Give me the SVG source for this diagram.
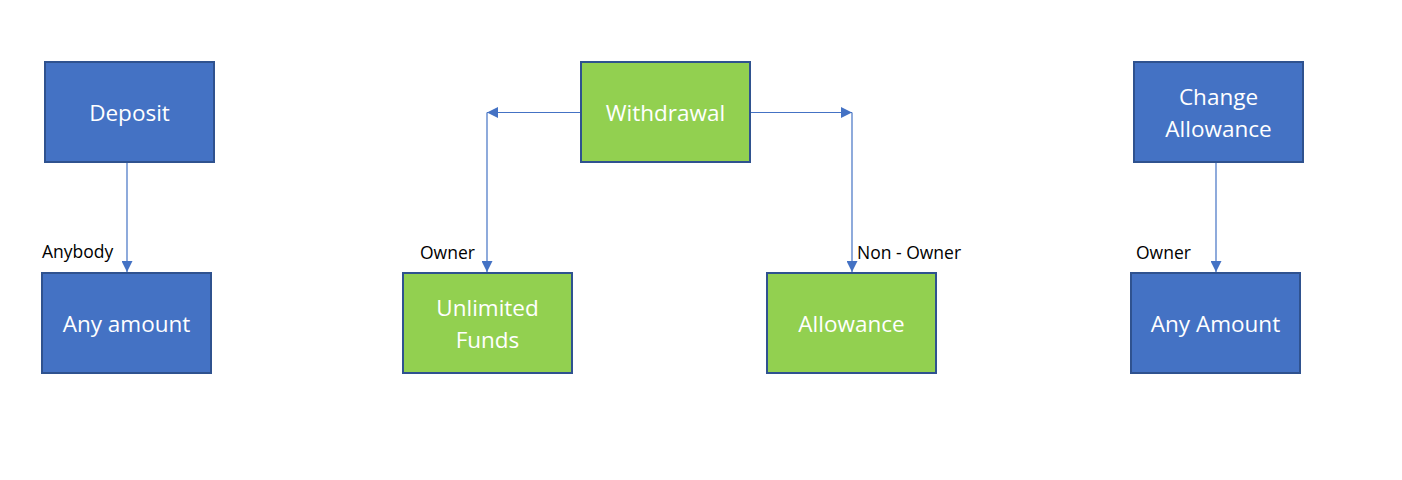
<svg xmlns="http://www.w3.org/2000/svg" width="1402" height="480" viewBox="0 0 1402 480">
<defs>
<marker id="arr" markerWidth="11" markerHeight="11" refX="11" refY="5.5" orient="auto" markerUnits="userSpaceOnUse">
<path d="M0,0 L11,5.5 L0,11 Z" fill="#4472C4"/>
</marker>
<style>
.blue{fill:#4472C4;stroke:#2F528F;stroke-width:2}
.green{fill:#92D050;stroke:#2F528F;stroke-width:2}
.t{font-family:"Open Sans","Noto Sans","DejaVu Sans",sans-serif;font-size:22.5px;fill:#fff;text-anchor:middle}
.lbl{font-family:"Open Sans","Noto Sans","DejaVu Sans",sans-serif;font-size:17.5px;fill:#000}
.c{fill:none;stroke:#4472C4;stroke-width:1.2}
</style>
</defs>
<rect width="1402" height="480" fill="#fff"/>
<g id="connectors">
<path class="c" d="M127,163 V272" marker-end="url(#arr)"/>
<path class="c" d="M581,112.5 H487"  marker-end="url(#arr)"/>
<path class="c" d="M487,112.5 V272" marker-end="url(#arr)"/>
<path class="c" d="M750,112.5 H852" marker-end="url(#arr)"/>
<path class="c" d="M852,112.5 V272" marker-end="url(#arr)"/>
<path class="c" d="M1216,163 V272" marker-end="url(#arr)"/>
<text class="lbl" x="42" y="258">Anybody</text>
<text class="lbl" x="420" y="259">Owner</text>
<text class="lbl" x="857" y="259">Non - Owner</text>
<text class="lbl" x="1136" y="259">Owner</text>
</g>
<g id="deposit">
<rect class="blue" x="45" y="62" width="169" height="100"/>
<text class="t" x="129.5" y="121">Deposit</text>
</g>
<g id="any-amount-1">
<rect class="blue" x="42" y="273" width="169" height="100"/>
<text class="t" x="126.5" y="332">Any amount</text>
</g>
<g id="withdrawal">
<rect class="green" x="581" y="62" width="169" height="100"/>
<text class="t" x="665.5" y="121">Withdrawal</text>
</g>
<g id="unlimited-funds">
<rect class="green" x="403" y="273" width="169" height="100"/>
<text class="t" x="487.5" y="316">Unlimited</text>
<text class="t" x="487.5" y="348">Funds</text>
</g>
<g id="allowance">
<rect class="green" x="767" y="273" width="169" height="100"/>
<text class="t" x="851.5" y="332">Allowance</text>
</g>
<g id="change-allowance">
<rect class="blue" x="1134" y="62" width="169" height="100"/>
<text class="t" x="1218.5" y="105">Change</text>
<text class="t" x="1218.5" y="137">Allowance</text>
</g>
<g id="any-amount-2">
<rect class="blue" x="1131" y="273" width="169" height="100"/>
<text class="t" x="1215.5" y="332">Any Amount</text>
</g>
</svg>
